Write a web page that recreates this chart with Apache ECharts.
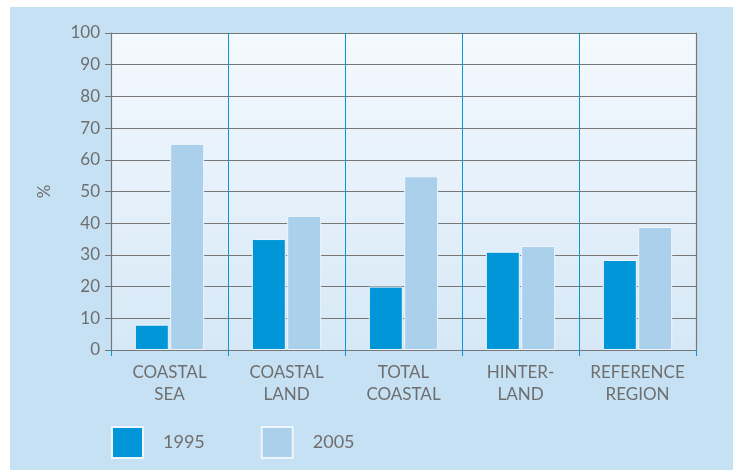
<!DOCTYPE html>
<html>
<head>
<meta charset="utf-8">
<script src="https://cdn.jsdelivr.net/npm/echarts@6/dist/echarts.min.js"></script>
<style>
  html, body { margin: 0; padding: 0; background: #ffffff; }
  #chart { position: absolute; left: 10px; top: 7px; width: 723px; height: 463px; }
</style>
</head>
<body>
<div id="chart"></div>
<script>
// categories and values
var categories = ['COASTAL\nSEA', 'COASTAL\nLAND', 'TOTAL\nCOASTAL', 'HINTER-\nLAND', 'REFERENCE\nREGION'];
var values1995 = [8, 35, 20, 31, 28.4];
var values2005 = [65, 42.3, 54.8, 32.8, 38.8];
var yTicks = [0, 10, 20, 30, 40, 50, 60, 70, 80, 90, 100];

var textGray = '#6e6e6e';
var fontName = 'Lato';

var chart = echarts.init(document.getElementById('chart'));
var option = {
    backgroundColor: '#c6e1f3',
    animation: false,
    color: ['#0096d8', '#abd0ec'],
    textStyle: { fontFamily: fontName },
    legend: {
        left: 101,
        top: 419,
        padding: 0,
        itemWidth: 31,
        itemHeight: 31,
        itemGap: 56,
        icon: 'rect',
        textStyle: { color: textGray, fontSize: 18, fontFamily: fontName, padding: [0, 0, 0, 15] },
        data: ['1995', '2005']
    },
    grid: {
        left: 101,
        top: 26,
        right: 37,
        bottom: 120,
        show: true,
        borderWidth: 0,
        backgroundColor: {
            type: 'linear', x: 0, y: 0, x2: 0, y2: 1,
            colorStops: [
                { offset: 0, color: '#f4f9fe' },
                { offset: 1, color: '#d6e8f6' }
            ]
        }
    },
    xAxis: {
        type: 'category',
        data: categories,
        axisLine: { lineStyle: { color: '#777777', width: 1.2 } },
        axisTick: { show: true, interval: 0, length: 6, lineStyle: { color: '#0a97d9' } },
        splitLine: { show: true, interval: 0, showMinLine: false, showMaxLine: false, lineStyle: { color: '#0a97d9', width: 1 } },
        axisLabel: { interval: 0, color: textGray, fontSize: 17, lineHeight: 22, margin: 12, fontFamily: fontName }
    },
    yAxis: [
        {
            type: 'value',
            min: yTicks[0],
            max: yTicks[yTicks.length - 1],
            interval: 10,
            name: '%',
            nameLocation: 'middle',
            nameRotate: 90,
            nameGap: 58,
            nameTextStyle: { color: textGray, fontSize: 17, fontFamily: fontName },
            axisLine: { show: true, lineStyle: { color: '#777777', width: 1.2 } },
            axisTick: { show: true, length: 6, lineStyle: { color: '#777777' } },
            splitLine: { show: true, lineStyle: { color: '#777777', width: 1.2 } },
            axisLabel: { color: textGray, fontSize: 17, margin: 11, fontFamily: fontName }
        },
        {
            type: 'value',
            position: 'right',
            min: 0,
            max: 100,
            interval: 10,
            axisLine: { show: true, lineStyle: { color: '#777777', width: 1.2 } },
            axisTick: { show: false },
            splitLine: { show: false },
            axisLabel: { show: false }
        }
    ],
    series: [
        {
            name: '1995',
            type: 'bar',
            barWidth: 34,
            barGap: '4%',
            itemStyle: { borderColor: '#eef5fb', borderWidth: 1 },
            data: values1995
        },
        {
            name: '2005',
            type: 'bar',
            barWidth: 34,
            itemStyle: { borderColor: '#eef5fb', borderWidth: 1 },
            data: values2005
        }
    ]
};
chart.setOption(option);
</script>
</body>
</html>
